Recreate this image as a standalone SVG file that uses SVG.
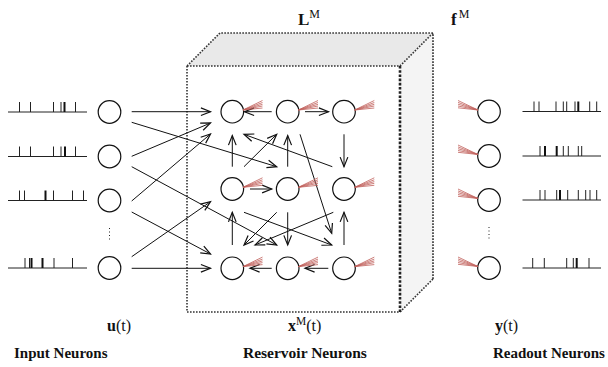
<svg xmlns="http://www.w3.org/2000/svg" width="608" height="367" viewBox="0 0 608 367">
<style>
.n{fill:#fff;stroke:#111;stroke-width:1.2}
.tr{fill:none;stroke:#222;stroke-width:1}
.tk{fill:none;stroke:#111;stroke-width:2}
.fan{fill:none;stroke:#c0605a;stroke-width:0.8}
.c{fill:none;stroke:#111;stroke-width:1;marker-end:url(#ah)}
.dt{fill:none;stroke:#333;stroke-width:1.6;stroke-dasharray:1.6 1.4}
.db{fill:none;stroke:#222;stroke-width:2.6;stroke-dasharray:2.6 1.6}
.vd{fill:none;stroke:#222;stroke-width:1;stroke-dasharray:1 2.5}
.t{font-family:"Liberation Serif","Times New Roman",serif;fill:#111}
.b{font-weight:bold}
</style>
<defs>
<marker id="ah" markerUnits="userSpaceOnUse" markerWidth="12" markerHeight="10" refX="0" refY="0" viewBox="-9 -4 10 8" orient="auto" overflow="visible">
<path d="M-8,-3.2 L0,0 L-8,3.2" fill="none" stroke="#111" stroke-width="1"/>
</marker>
</defs>

<!-- reservoir box -->
<g id="reservoir-box">
<polygon points="187,66 220,33 433,33 400,66" fill="#e9e9e9"/>
<polygon points="400,66 433,33 433,279 400,312" fill="#f4f4f4"/>
<path class="dt" d="M187,66 V312 H400 M187,66 H400 M187,66 L220,33 H433 V279 M400,66 L433,33 M400,312 L433,279"/>
<path class="db" d="M400,66 V312"/>
</g>

<!-- input spike trains -->
<g id="input-trains">
<path class="tr" d="M8,112 H87 M19.5,112 v-10 M30.5,112 v-10 M53.5,112 v-10 M61,112 v-10 M75.5,112 v-10"/>
<path class="tk" d="M64.5,112 v-10"/>
<path class="tr" d="M8,156.5 H87 M19.5,156.5 v-10 M30.5,156.5 v-10 M53.5,156.5 v-10 M61,156.5 v-10 M75.5,156.5 v-10"/>
<path class="tk" d="M65,156.5 v-10"/>
<path class="tr" d="M8,200.5 H87 M19.5,200.5 v-10 M24.5,200.5 v-10 M53.5,200.5 v-10 M72.5,200.5 v-10 M83.5,200.5 v-10"/>
<path class="tk" d="M45.5,200.5 v-10"/>
<path class="tr" d="M8,268 H87 M25,268 v-10 M29.5,268 v-10 M54,268 v-10 M72.5,268 v-10"/>
<path class="tk" d="M31.5,268 v-10 M42.5,268 v-10"/>
</g>

<!-- input neurons -->
<g id="in1"><circle class="n" cx="109.5" cy="112" r="11.3"/></g>
<g id="in2"><circle class="n" cx="109.5" cy="156.5" r="11.3"/></g>
<g id="in3"><circle class="n" cx="109.5" cy="200.5" r="11.3"/></g>
<g id="in-dots"><path class="vd" d="M109.5,228 V242"/></g>
<g id="in4"><circle class="n" cx="109.5" cy="268" r="11.3"/></g>

<!-- connectors -->
<g id="connectors">
<path class="c" d="M131.7,111.7 L210.5,111.7"/>
<path class="c" d="M131.7,122.3 L276.7,166.7"/>
<path class="c" d="M131.7,156.3 L210.5,123"/>
<path class="c" d="M131.7,166.7 L276.7,245"/>
<path class="c" d="M131.7,201 L210.5,134"/>
<path class="c" d="M131.7,212 L210.5,254"/>
<path class="c" d="M131.7,256.7 L210.5,201.7"/>
<path class="c" d="M131.7,268.3 L210.5,268.3"/>
<path class="c" d="M271.7,111.7 L244.5,111.7"/>
<path class="c" d="M305,111.7 L328.5,111.7"/>
<path class="c" d="M232.3,166.7 L232.3,135.5"/>
<path class="c" d="M287.7,166.7 L287.7,135.5"/>
<path class="c" d="M344,134.3 L344,166.7"/>
<path class="c" d="M244,166.7 L276.7,134.3"/>
<path class="c" d="M332.3,166.7 L244,134.3"/>
<path class="c" d="M300,134.3 L331.7,233.3"/>
<path class="c" d="M250,189 L271.7,189"/>
<path class="c" d="M232.3,245 L232.3,212.3"/>
<path class="c" d="M287.7,212.3 L287.7,245"/>
<path class="c" d="M344,245 L344,212.3"/>
<path class="c" d="M276.7,212.3 L244,245"/>
<path class="c" d="M333.3,212.3 L255,245"/>
<path class="c" d="M244,212.3 L331.7,245"/>
<path class="c" d="M271.7,268.3 L250,268.3"/>
<path class="c" d="M328.3,268.3 L305,268.3"/>
</g>

<!-- reservoir neurons -->
<g id="r11"><circle class="n" cx="232.3" cy="111.7" r="11.3"/><path class="fan" d="M243,110 L262.5,100.5 M243,110 L262.5,102.5 M243,110 L262.5,104.3 M243,110 L262.5,106 M243,110 L262.5,108"/></g>
<g id="r12"><circle class="n" cx="287.7" cy="111.7" r="11.3"/><path class="fan" d="M298.4,110 L318,100.5 M298.4,110 L318,102.5 M298.4,110 L318,104.3 M298.4,110 L318,106 M298.4,110 L318,108"/></g>
<g id="r13"><circle class="n" cx="344" cy="111.7" r="11.3"/><path class="fan" d="M354.7,110 L374.3,100.5 M354.7,110 L374.3,102.5 M354.7,110 L374.3,104.3 M354.7,110 L374.3,106 M354.7,110 L374.3,108"/></g>
<g id="r21"><circle class="n" cx="232.3" cy="189" r="11.3"/><path class="fan" d="M243,187.3 L262.5,177.8 M243,187.3 L262.5,179.8 M243,187.3 L262.5,181.6 M243,187.3 L262.5,183.3 M243,187.3 L262.5,185.3"/></g>
<g id="r22"><circle class="n" cx="287.7" cy="189" r="11.3"/><path class="fan" d="M298.4,187.3 L318,177.8 M298.4,187.3 L318,179.8 M298.4,187.3 L318,181.6 M298.4,187.3 L318,183.3 M298.4,187.3 L318,185.3"/></g>
<g id="r23"><circle class="n" cx="344" cy="189" r="11.3"/><path class="fan" d="M354.7,187.3 L374.3,177.8 M354.7,187.3 L374.3,179.8 M354.7,187.3 L374.3,181.6 M354.7,187.3 L374.3,183.3 M354.7,187.3 L374.3,185.3"/></g>
<g id="r31"><circle class="n" cx="232.3" cy="268.3" r="11.3"/><path class="fan" d="M243,266.6 L262.5,257.1 M243,266.6 L262.5,259.1 M243,266.6 L262.5,260.9 M243,266.6 L262.5,262.6 M243,266.6 L262.5,264.6"/></g>
<g id="r32"><circle class="n" cx="287.7" cy="268.3" r="11.3"/><path class="fan" d="M298.4,266.6 L318,257.1 M298.4,266.6 L318,259.1 M298.4,266.6 L318,260.9 M298.4,266.6 L318,262.6 M298.4,266.6 L318,264.6"/></g>
<g id="r33"><circle class="n" cx="344" cy="268.3" r="11.3"/><path class="fan" d="M354.7,266.6 L374.3,257.1 M354.7,266.6 L374.3,259.1 M354.7,266.6 L374.3,260.9 M354.7,266.6 L374.3,262.6 M354.7,266.6 L374.3,264.6"/></g>

<!-- readout neurons -->
<g id="out1"><circle class="n" cx="489" cy="111.5" r="11.3"/><path class="fan" d="M458,100.5 L478,110 M458,102.4 L478,110 M458,104.2 L478,110 M458,106 L478,110 M458,107.8 L478,110"/></g>
<g id="out2"><circle class="n" cx="489" cy="156" r="11.3"/><path class="fan" d="M458,145 L478,154.5 M458,146.9 L478,154.5 M458,148.7 L478,154.5 M458,150.5 L478,154.5 M458,152.3 L478,154.5"/></g>
<g id="out3"><circle class="n" cx="489" cy="200" r="11.3"/><path class="fan" d="M458,189 L478,198.5 M458,190.9 L478,198.5 M458,192.7 L478,198.5 M458,194.5 L478,198.5 M458,196.3 L478,198.5"/></g>
<g id="out-dots"><path class="vd" d="M489,227 V241"/></g>
<g id="out4"><circle class="n" cx="489" cy="268" r="11.3"/><path class="fan" d="M458,257 L478,266.5 M458,258.9 L478,266.5 M458,260.7 L478,266.5 M458,262.5 L478,266.5 M458,264.3 L478,266.5"/></g>

<!-- readout spike trains -->
<g id="out-trains">
<path class="tr" d="M522.5,111.5 H601 M534,111.5 v-10 M539,111.5 v-10 M556,111.5 v-10 M563.3,111.5 v-10 M566.7,111.5 v-10 M575,111.5 v-10 M589.7,111.5 v-10 M596.7,111.5 v-10"/>
<path class="tk" d="M578.3,111.5 v-10"/>
<path class="tr" d="M522.5,156 H601 M540,156 v-10 M563.3,156 v-10 M568.3,156 v-10 M578.3,156 v-10 M581.7,156 v-10"/>
<path class="tk" d="M545,156 v-10 M556.7,156 v-10"/>
<path class="tr" d="M522.5,200 H601 M540,200 v-10 M545,200 v-10 M556.7,200 v-10 M567.7,200 v-10 M578.3,200 v-10 M585.7,200 v-10 M590,200 v-10 M596.7,200 v-10"/>
<path class="tk" d="M560,200 v-10"/>
<path class="tr" d="M522.5,268 H601 M532.7,268 v-10 M544.3,268 v-10 M566.7,268 v-10 M573.3,268 v-10 M589,268 v-10"/>
<path class="tk" d="M576.7,268 v-10"/>
</g>

<!-- labels -->
<g id="labels">
<text class="t" x="298" y="25" font-size="17"><tspan class="b">L</tspan><tspan font-size="12" dy="-7">M</tspan></text>
<text class="t" x="451" y="25" font-size="17"><tspan class="b">f</tspan><tspan font-size="12" dx="2" dy="-7">M</tspan></text>
<text class="t" x="107" y="331" font-size="16"><tspan class="b">u</tspan>(t)</text>
<text class="t" x="288" y="331" font-size="16"><tspan class="b">x</tspan><tspan font-size="11.5" dy="-6">M</tspan><tspan dy="6">(t)</tspan></text>
<text class="t" x="495" y="331" font-size="16"><tspan class="b">y</tspan>(t)</text>
<text class="t b" x="14" y="358" font-size="15">Input Neurons</text>
<text class="t b" x="243" y="358" font-size="15.5">Reservoir Neurons</text>
<text class="t b" x="493" y="358" font-size="15">Readout Neurons</text>
</g>
</svg>
